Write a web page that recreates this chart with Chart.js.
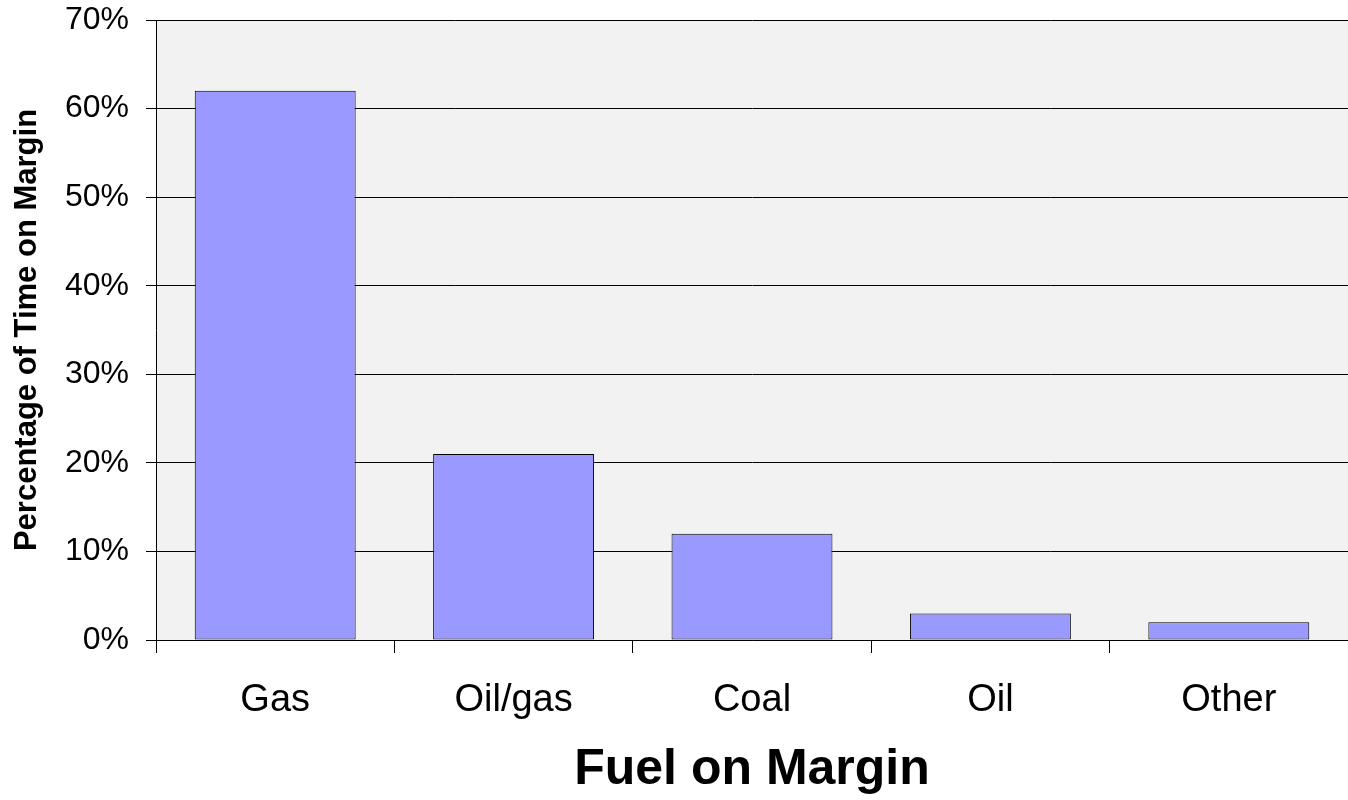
<!DOCTYPE html>
<html>
<head>
<meta charset="utf-8">
<script src="https://cdn.jsdelivr.net/npm/chart.js@4/dist/chart.umd.min.js"></script>
<style>
  html, body { margin: 0; padding: 0; background: #fff; }
  #wrap { width: 1348px; height: 800px; }
</style>
</head>
<body>
<div id="wrap"><canvas id="chart" width="1348" height="800"></canvas></div>
<script>
// ---------- Data ----------
var fuels = ['Gas', 'Oil/gas', 'Coal', 'Oil', 'Other'];
var shareOfTime = [62, 21, 12, 3, 2];
var yTickMax = 70;
var yTickStep = 10;

var FONT = "'Liberation Sans', Arial, sans-serif";

// grey plot background behind the bars
var plotBg = {
  id: 'plotBg',
  beforeDraw: function (chart) {
    var a = chart.chartArea, ctx = chart.ctx;
    ctx.save();
    ctx.fillStyle = '#f2f2f2';
    ctx.fillRect(a.left, a.top, a.right - a.left, a.bottom - a.top);
    ctx.restore();
  }
};

new Chart(document.getElementById('chart'), {
  type: 'bar',
  data: {
    labels: fuels,
    datasets: [{
      label: 'Percentage of Time on Margin',
      data: shareOfTime,
      backgroundColor: '#9999ff',
      borderColor: '#000',
      borderWidth: 1,
      borderSkipped: false,
      barPercentage: 0.675,
      categoryPercentage: 1
    }]
  },
  options: {
    responsive: false,
    animation: false,
    layout: { padding: { top: 20, right: 0, bottom: 0, left: 0 } },
    plugins: {
      legend: { display: false },
      tooltip: { enabled: false }
    },
    scales: {
      x: {
        offset: true,
        grid: { offset: true, drawOnChartArea: false, drawTicks: true, tickLength: 13, color: '#000', lineWidth: 1 },
        border: { display: true, color: '#000', width: 1 },
        ticks: { color: '#000', padding: 25, font: { family: FONT, size: 38 } },
        title: { display: true, text: 'Fuel on Margin', color: '#000', padding: { top: 0, bottom: 0 }, font: { family: FONT, size: 50, weight: 'bold' } },
        afterFit: function (scale) {
          scale.height = 160;
          scale.paddingLeft = 0;
          scale.paddingRight = 0;
        }
      },
      y: {
        min: 0,
        max: yTickMax,
        grid: { color: '#000', lineWidth: 1, tickLength: 10, drawTicks: true },
        border: { display: true, color: '#000', width: 1 },
        ticks: {
          stepSize: yTickStep,
          color: '#000',
          padding: 17,
          font: { family: FONT, size: 32 },
          callback: function (v) { return v + '%'; }
        },
        title: { display: true, text: 'Percentage of Time on Margin', color: '#000', padding: { top: 9, bottom: 0 }, font: { family: FONT, size: 31, weight: 'bold' } },
        afterFit: function (scale) {
          scale.width = 156;
          scale.paddingTop = 0;
          scale.paddingBottom = 0;
        }
      }
    }
  },
  plugins: [plotBg]
});
</script>
</body>
</html>
